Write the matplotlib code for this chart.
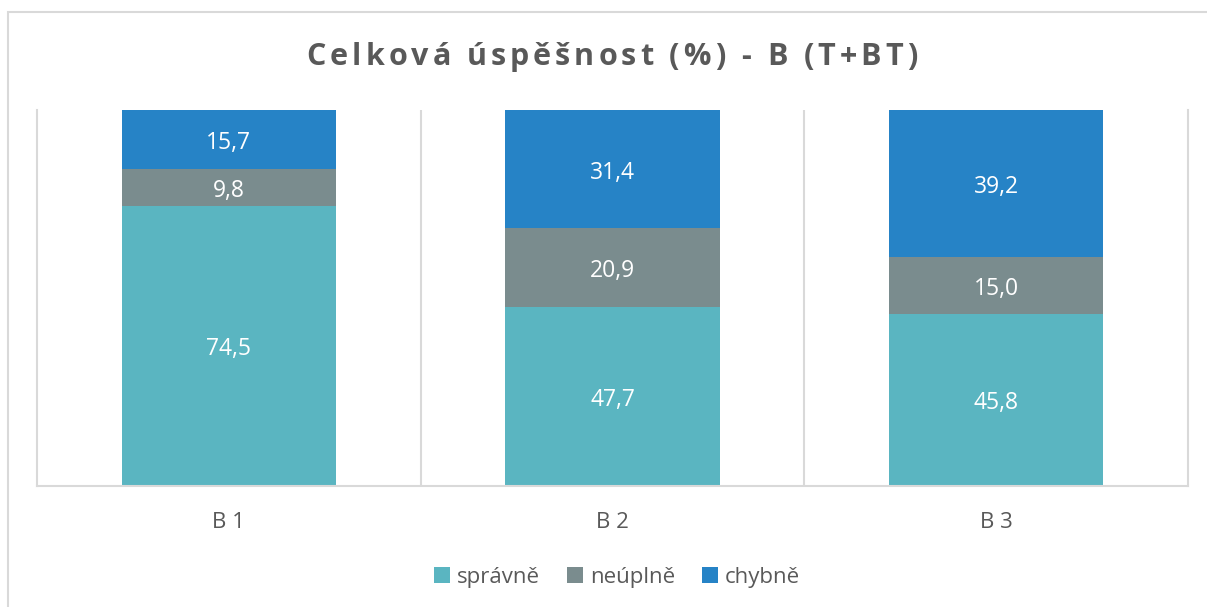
import matplotlib
matplotlib.use("Agg")
import matplotlib.pyplot as plt
from matplotlib.patches import Rectangle
import numpy as np

categories = ["B 1", "B 2", "B 3"]
spravne = [74.5, 47.7, 45.8]
neuplne = [9.8, 20.9, 15.0]
chybne = [15.7, 31.4, 39.2]
series_names = ["správně", "neúplně", "chybně"]
title = "Celková úspěšnost (%) - B (T+BT)"

_COLORS = {
    "spravne": "#5AB5C1",
    "neuplne": "#7A8C8E",
    "chybne": "#2683C6",
    "grid": "#D9D9D9",
    "text": "#595959",
}

plt.rcParams["font.family"] = ["Open Sans", "DejaVu Sans"]

W, H = 1207, 607
fig = plt.figure(figsize=(W / 100, H / 100), dpi=100, facecolor="white")
ax = fig.add_axes([37 / W, 1 - 486 / H, (1188 - 37) / W, (486 - 110) / H])

# chart outer border (cut off at right and bottom like the source)
fig.patches.append(Rectangle((8 / W, -0.2), 1.2, 1.2 - 12 / H,
                             transform=fig.transFigure, fill=False,
                             edgecolor=_COLORS["grid"], linewidth=1.5))

x = np.arange(len(categories))
width = 0.558
series = [spravne, neuplne, chybne]
colors = [_COLORS["spravne"], _COLORS["neuplne"], _COLORS["chybne"]]
bottom = np.zeros(len(categories))
for vals, col, name in zip(series, colors, series_names):
    vals = np.array(vals)
    ax.bar(x, vals, width, bottom=bottom, color=col, label=name, zorder=2)
    for xi, b, v in zip(x, bottom, vals):
        ax.annotate(f"{v:.1f}".replace(".", ","), (xi, b + v / 2), xytext=(0, -2.5),
                    textcoords="offset points", ha="center", va="center",
                    color="white", fontsize=16.5, zorder=3)
    bottom += vals

ax.set_xlim(-0.5, len(categories) - 0.5)
ax.set_ylim(0, 100)
for gx in np.arange(0.5, len(categories) - 0.5):
    ax.axvline(gx, color=_COLORS["grid"], linewidth=1.5, zorder=1)
for side in ["left", "right", "bottom"]:
    ax.spines[side].set_color(_COLORS["grid"])
    ax.spines[side].set_linewidth(1.5)
ax.spines["top"].set_visible(False)
ax.set_yticks([])
ax.set_xticks(x)
ax.set_xticklabels(categories, color=_COLORS["text"], fontsize=16)
ax.tick_params(axis="x", length=0, pad=19)

# title with letter spacing: place each character separately
renderer = fig.canvas.get_renderer()
spacing = 4.0
title_kw = dict(fontsize=22, fontweight="bold", color=_COLORS["text"], va="center", ha="left")
widths = []
for ch in title:
    t = fig.text(0, 0, ch if ch != " " else "a a", **title_kw)
    w = t.get_window_extent(renderer).width
    if ch == " ":
        t2 = fig.text(0, 0, "aa", **title_kw)
        w = w - t2.get_window_extent(renderer).width
        t2.remove()
    t.remove()
    widths.append(w)
total = sum(widths) + spacing * (len(title) - 1)
cx = 612 - total / 2
for ch, w in zip(title, widths):
    if ch != " ":
        fig.text(cx / W, 1 - 57 / H, ch, **title_kw)
    cx += w + spacing

leg = fig.legend(loc="center", bbox_to_anchor=(617 / W, 1 - 577 / H), ncol=3, frameon=False,
                 fontsize=16, handlelength=0.75, handleheight=0.75, handletextpad=0.3, columnspacing=1.2)
for t in leg.get_texts():
    t.set_color(_COLORS["text"])

fig.savefig("out.png", dpi=100, facecolor="white")
